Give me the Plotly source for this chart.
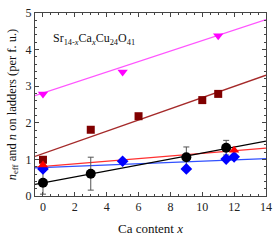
import plotly.graph_objects as go

# Data
black_x = [0, 3, 9, 11.5]
black_y = [0.36, 0.61, 1.06, 1.32]
black_err = [0.31, 0.45, 0.28, 0.2]

red_x = [0, 12]
red_y = [0.85, 1.25]

blue_x = [0, 5, 9, 11.5, 12]
blue_y = [0.74, 0.95, 0.74, 1.01, 1.07]

sq_x = [0, 3, 6, 10, 11]
sq_y = [0.99, 1.81, 2.18, 2.62, 2.79]

mag_x = [0, 5, 11]
mag_y = [2.79, 3.39, 4.38]

fit_x = [-0.5, 14]
black_fit = [0.32, 1.50]
red_fit = [0.79, 1.31]
blue_fit = [0.77, 1.02]
sq_fit = [1.08, 3.30]
mag_fit = [2.74, 4.82]

xticks = [0, 2, 4, 6, 8, 10, 12, 14]
yticks = [0, 1, 2, 3, 4, 5]

FONT = "Liberation Serif"

fig = go.Figure()

for fy, col in [(mag_fit, "#ff55ff"), (sq_fit, "#a52a2a"), (red_fit, "#ff3030"),
                (blue_fit, "#3050ff"), (black_fit, "#000000")]:
    fig.add_trace(go.Scatter(x=fit_x, y=fy, mode="lines",
                             line=dict(color=col, width=1.3), showlegend=False,
                             hoverinfo="skip"))

fig.add_trace(go.Scatter(x=mag_x, y=mag_y, mode="markers",
                         marker=dict(symbol="triangle-down", color="#ff00ff", size=9),
                         showlegend=False))
fig.add_trace(go.Scatter(x=sq_x, y=sq_y, mode="markers",
                         marker=dict(symbol="square", color="#800000", size=8),
                         showlegend=False))
fig.add_trace(go.Scatter(x=black_x, y=black_y, mode="markers",
                         error_y=dict(type="data", array=black_err, color="#555555",
                                      thickness=1, width=3),
                         marker=dict(symbol="circle", color="#000000", size=10),
                         showlegend=False))
fig.add_trace(go.Scatter(x=blue_x, y=blue_y, mode="markers",
                         marker=dict(symbol="diamond", color="#0000ff", size=9),
                         showlegend=False))
fig.add_trace(go.Scatter(x=red_x, y=red_y, mode="markers",
                         marker=dict(symbol="triangle-up", color="#ff0000", size=9),
                         showlegend=False))

axis_common = dict(showline=True, linecolor="#444444", linewidth=1, mirror="allticks",
                   ticks="inside", ticklen=4, tickcolor="#444444", showgrid=False,
                   zeroline=False, tickfont=dict(family=FONT, size=12, color="#222222"))

fig.update_xaxes(range=[-0.5, 14], tickvals=xticks,
                 minor=dict(dtick=0.5, ticks="inside", ticklen=2, tickcolor="#444444", showgrid=False),
                 title=dict(text="Ca content <i>x</i>", font=dict(family=FONT, size=13, color="#111111"),
                            standoff=10),
                 **axis_common)
fig.update_yaxes(range=[0, 5], tickvals=yticks,
                 minor=dict(dtick=0.2, ticks="inside", ticklen=2, tickcolor="#444444", showgrid=False),
                 title=dict(text="<i>n</i><sub>eff</sub> and <i>n</i> on ladders (per f. u.)",
                            font=dict(family=FONT, size=12.5, color="#111111"), standoff=6),
                 **axis_common)

fig.add_annotation(xref="paper", yref="paper", x=0.07, y=0.86, xanchor="left", yanchor="middle",
                   text="Sr<sub>14-<i>x</i></sub>Ca<sub><i>x</i></sub>Cu<sub>24</sub>O<sub>41</sub>",
                   showarrow=False, font=dict(family=FONT, size=12, color="#111111"))

fig.update_layout(width=278, height=240, margin=dict(l=35, r=10, t=6, b=39),
                  plot_bgcolor="white", paper_bgcolor="white")

fig.write_html("out.html", config={"displayModeBar": False},
               post_script="document.body.style.margin='0';")
